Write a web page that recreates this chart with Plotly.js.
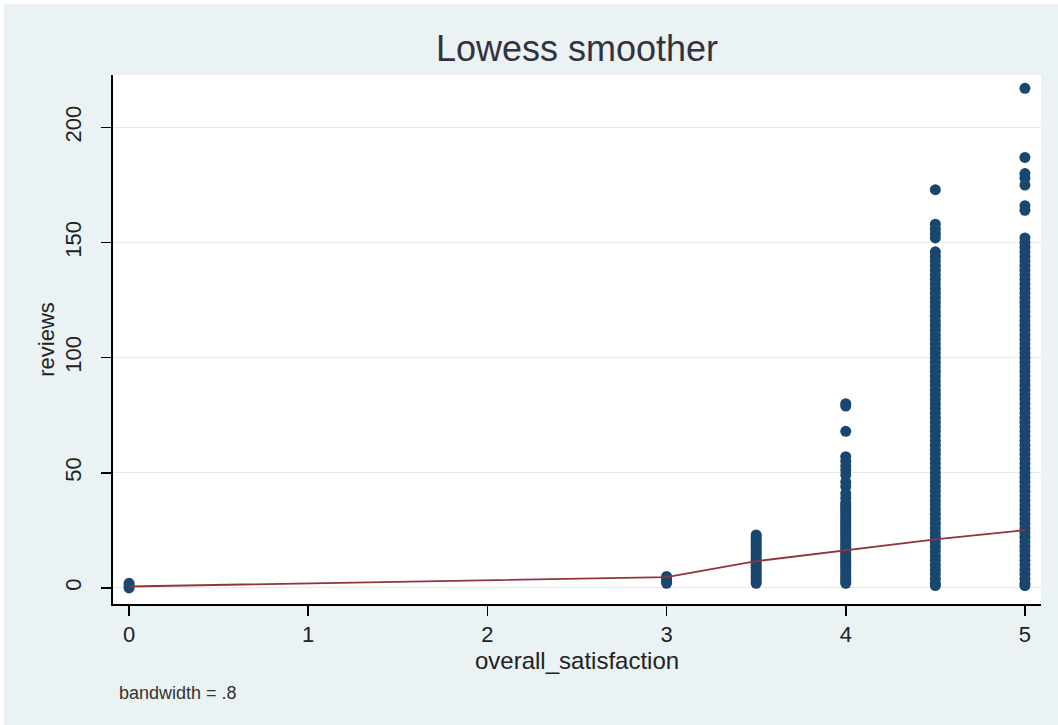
<!DOCTYPE html>
<html>
<head>
<meta charset="utf-8">
<script src="https://cdn.plot.ly/plotly-3.0.1.min.js"></script>
<style>
  html, body { margin: 0; padding: 0; background: #ffffff; }
  #chart { position: absolute; left: 4px; top: 4px; width: 1054px; height: 721px; }
</style>
</head>
<body>
<div id="chart"></div>
<script>
// ---- data ----
const satisfactionLevels = [0, 3, 3.5, 4, 4.5, 5];

const reviewsAt0 = [0, 1, 2];
const reviewsAt3 = [2, 3, 4, 5];
const reviewsAt35 = [2, 3, 4, 5, 6, 7, 8, 9, 10, 11, 12, 13, 14, 15, 16, 17, 18, 19, 20, 21, 22, 23];
const reviewsAt4 = [80, 79, 68, 57, 55, 53, 51, 49, 46, 44, 41, 39, 37, 36, 35, 34, 33, 32, 31, 30,
  29, 28, 27, 26, 25, 24, 23, 22, 21, 20, 19, 18, 17, 16, 15, 14, 13, 12, 11, 10, 9, 8, 7, 6, 5, 4, 3, 2];
const reviewsAt45 = [173, 158, 156, 154, 152, 146, 144, 142, 140, 138, 136, 134, 132, 130, 128, 126,
  124, 122, 120, 118, 116, 114, 112, 110, 108, 106, 104, 102, 100, 98, 96, 94, 92, 90, 88, 86, 84,
  82, 80, 78, 76, 74, 72, 70, 68, 66, 64, 62, 60, 58, 56, 54, 52, 50, 48, 46, 44, 42, 40, 38, 36,
  34, 32, 30, 28, 26, 24, 22, 20, 18, 16, 14, 12, 10, 8, 6, 4, 2, 1];
const reviewsAt5 = [217, 187, 180, 178, 175, 166, 164, 152, 150, 148, 146, 144, 142, 140, 138, 136,
  134, 132, 130, 128, 126, 124, 122, 120, 118, 116, 114, 112, 110, 108, 106, 104, 102, 100, 98, 96,
  94, 92, 90, 88, 86, 84, 82, 80, 78, 76, 74, 72, 70, 68, 66, 64, 62, 60, 58, 56, 54, 52, 50, 48,
  46, 44, 42, 40, 38, 36, 34, 32, 30, 28, 26, 24, 22, 20, 18, 16, 14, 12, 10, 8, 6, 4, 2, 1];

// lowess fitted values at each satisfaction level
const lowessFit = [0.6, 4.7, 11.6, 16.3, 21.1, 25.1];

const yTickValues = [0, 50, 100, 150, 200];
const xTickValues = [0, 1, 2, 3, 4, 5];

// ---- build scatter arrays ----
const groups = [reviewsAt0, reviewsAt3, reviewsAt35, reviewsAt4, reviewsAt45, reviewsAt5];
const scatterX = [];
const scatterY = [];
groups.forEach((vals, i) => {
  vals.forEach(v => { scatterX.push(satisfactionLevels[i]); scatterY.push(v); });
});

const fontFamily = '"Liberation Sans", Arial, "DejaVu Sans", sans-serif';

const traces = [
  {
    type: 'scatter', mode: 'markers',
    x: scatterX, y: scatterY,
    marker: { color: '#1A476F', size: 11, line: { width: 0 } },
    hoverinfo: 'x+y', showlegend: false
  },
  {
    type: 'scatter', mode: 'lines',
    x: satisfactionLevels, y: lowessFit,
    line: { color: '#90353B', width: 1.8 },
    showlegend: false
  }
];

const layout = {
  width: 1054, height: 721,
  paper_bgcolor: '#EAF2F3',
  plot_bgcolor: '#FFFFFF',
  margin: { l: 109, r: 17, t: 71, b: 121, pad: 0 },
  font: { family: fontFamily, color: '#222222' },
  title: {
    text: 'Lowess smoother',
    font: { family: fontFamily, size: 36, color: '#333340' },
    x: 0.5, xref: 'paper', xanchor: 'center',
    y: 1 - 44 / 721, yref: 'container', yanchor: 'middle'
  },
  xaxis: {
    range: [-0.0897, 5.0897],
    tickmode: 'array', tickvals: xTickValues, ticktext: xTickValues.map(String),
    showgrid: false, zeroline: false,
    showline: true, linecolor: '#000000', linewidth: 1.6,
    ticks: 'outside', ticklen: 10, tickwidth: 1.6, tickcolor: '#000000',
    tickfont: { family: fontFamily, size: 22, color: '#222222' },
    ticklabelstandoff: 0,
    fixedrange: true
  },
  yaxis: {
    range: [-7.0, 222.8],
    tickmode: 'array', tickvals: yTickValues, ticktext: yTickValues.map(String),
    tickangle: -90,
    showgrid: true, gridcolor: '#E6EBED', gridwidth: 1,
    zeroline: false,
    showline: true, linecolor: '#000000', linewidth: 1.6,
    ticks: 'outside', ticklen: 10, tickwidth: 1.6, tickcolor: '#000000',
    tickfont: { family: fontFamily, size: 22, color: '#222222' },
    ticklabelstandoff: 12,
    title: { text: 'reviews', font: { family: fontFamily, size: 22, color: '#222222' }, standoff: 0 },
    fixedrange: true
  },
  annotations: [
    {
      text: 'overall_satisfaction', showarrow: false,
      xref: 'paper', yref: 'paper', x: 0.5, y: -0.107, xanchor: 'center', yanchor: 'middle',
      font: { family: fontFamily, size: 24, color: '#222222' }
    },
    {
      text: 'bandwidth = .8', showarrow: false,
      xref: 'paper', yref: 'paper', x: 0.004, y: -0.168, xanchor: 'left', yanchor: 'middle',
      font: { family: fontFamily, size: 18, color: '#333333' }
    }
  ]
};

Plotly.newPlot('chart', traces, layout, { displayModeBar: false, staticPlot: true });
</script>
</body>
</html>
